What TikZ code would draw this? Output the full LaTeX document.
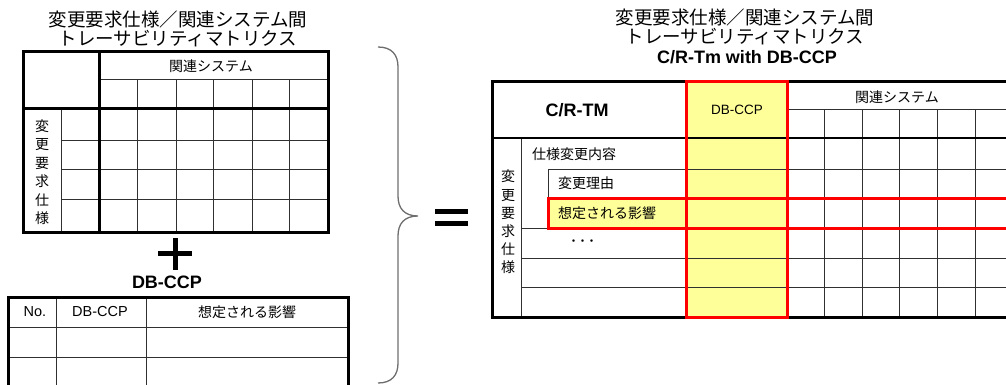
\documentclass[tikz,border=0pt]{standalone}
\usepackage{fontspec}
\setmainfont{Liberation Sans}
\newfontfamily\jp{Noto Sans CJK JP}
\definecolor{cellyellow}{HTML}{FFFF99}
\definecolor{gridgray}{HTML}{303030}
\definecolor{bracegray}{HTML}{6E6E6E}
\tikzset{
  gridline/.style={draw=gridgray, line width=1pt},
  medline/.style={draw=black, line width=2pt},
  boldline/.style={draw=black, line width=3pt},
  redline/.style={draw=red, line width=3pt},
  barline/.style={draw=black, line width=5pt},
  bracestyle/.style={draw=bracegray, line width=1.3pt},
  cell/.style={font=\jp\fontsize{14}{16}\selectfont, inner sep=0pt},
  latcell/.style={font=\fontsize{14.5}{16}\selectfont, inner sep=0pt},
  vcol/.style={font=\jp\fontsize{14}{18.5}\selectfont, inner sep=0pt, align=center},
  titletxt/.style={font=\jp\fontsize{18.5}{19}\selectfont, inner sep=0pt, align=center},
  boldtxt/.style={font=\bfseries\fontsize{18}{20}\selectfont, inner sep=0pt}
}
\begin{document}
\begin{tikzpicture}[x=1pt,y=-1pt]
\useasboundingbox (0,0) rectangle (1006,385);

% ---------- left title ----------
\node[titletxt] (ltitle) at (178,29) {変更要求仕様／関連システム間\\トレーサビリティマトリクス};

% ---------- left matrix ----------
\draw[gridline] (99,80) -- (328,80);
\foreach \x in {137,176,213,252,289} \draw[gridline] (\x,80) -- (\x,232);
\draw[gridline] (61,109) -- (61,232);
\foreach \y in {140,169,199} \draw[gridline] (61,\y) -- (328,\y);
\draw[boldline] (99,52) -- (99,232);
\draw[boldline] (23,109) -- (328,109);
\draw[boldline] (23,52) rectangle (328,232);
\node[cell] (lsys) at (211,66) {関連システム};
\node[vcol] (lvert) at (42,172) {変\\更\\要\\求\\仕\\様};

% ---------- plus ----------
\draw[barline] (158,253) -- (192,253);
\draw[barline] (175,238) -- (175,270);
\node[boldtxt] (dblabel) at (167,282) {DB-CCP};

% ---------- bottom table ----------
\draw[gridline] (8,327) -- (348,327);
\draw[gridline] (8,357) -- (348,357);
\draw[gridline] (56,297) -- (56,400);
\draw[gridline] (146,297) -- (146,400);
\draw[boldline] (8,400) -- (8,297) -- (348,297) -- (348,400);
\node[latcell] (bno) at (35,312) {No.};
\node[latcell] (bdb) at (100,312) {DB-CCP};
\node[cell] (beff) at (247,312) {想定される影響};

% ---------- brace and equals ----------
\draw[bracestyle] (378,47) .. controls (392,47) and (398,55) .. (398,67) -- (398,196)
  .. controls (398,208) and (404,216) .. (418,216)
  .. controls (404,216) and (398,224) .. (398,236) -- (398,363)
  .. controls (398,375) and (392,383) .. (378,383);
\draw[barline] (435,211) -- (468,211);
\draw[barline] (435,223) -- (468,223);

% ---------- right title ----------
\node[titletxt] (rtitle) at (745,27) {変更要求仕様／関連システム間\\トレーサビリティマトリクス};
\node[boldtxt] (rsub) at (747,57) {C/R-Tm with DB-CCP};

% ---------- right matrix ----------
\fill[cellyellow] (686,82) rectangle (787,317);
\fill[cellyellow] (548,198) rectangle (686,228);
\draw[gridline] (787,110) -- (1020,110);
\foreach \x in {824,862,899,937,975} \draw[gridline] (\x,110) -- (\x,317);
\draw[gridline] (521,138) -- (521,317);
\draw[gridline] (548,169) -- (548,228);
\draw[gridline] (548,169) -- (1020,169);
\draw[gridline] (548,198) -- (1020,198);
\foreach \y in {228,258,287} \draw[gridline] (521,\y) -- (1020,\y);
\draw[medline] (492,138) -- (1020,138);
\draw[boldline] (492,82) rectangle (1020,317);
\draw[redline] (686,82) rectangle (787,317);
\draw[redline] (548,198) rectangle (1030,228);

\node[boldtxt] (crtm) at (577,110) {C/R-TM};
\node[latcell, font=\fontsize{13.5}{16}\selectfont] (rdb) at (737,110) {DB-CCP};
\node[cell] (rsys) at (897,97) {関連システム};
\node[cell, anchor=west] (r1) at (532,154) {仕様変更内容};
\node[cell, anchor=west] (r2) at (558,183) {変更理由};
\node[cell, anchor=west] (r3) at (558,213) {想定される影響};
\node[cell, anchor=west, font=\jp\bfseries\fontsize{9}{9}\selectfont] (r4) at (569,242) {・・・};
\node[vcol, font=\jp\fontsize{14}{18.2}\selectfont] (rvert) at (508,222) {変\\更\\要\\求\\仕\\様};
\end{tikzpicture}
\end{document}
